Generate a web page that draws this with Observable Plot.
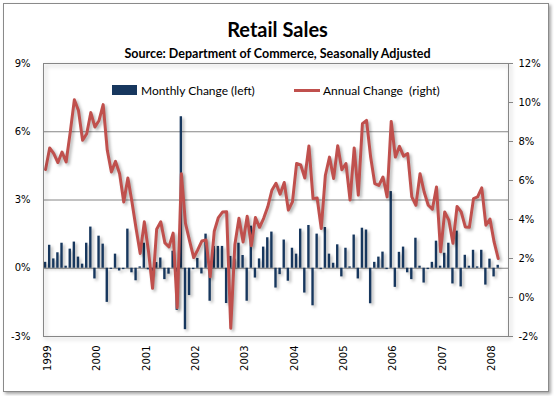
<!DOCTYPE html>
<html>
<head>
<meta charset="utf-8">
<script src="https://cdn.jsdelivr.net/npm/d3@7"></script>
<script src="https://cdn.jsdelivr.net/npm/@observablehq/plot@0.6"></script>
<style>
  html, body { margin: 0; padding: 0; background: #fff; }
  #wrap { position: relative; width: 554px; height: 396px; overflow: hidden; }
  #border { position: absolute; left: 3px; top: 3px; width: 544px; height: 387px; border: 1px solid #8a8a8a; box-shadow: 2px 2px 3px rgba(0,0,0,0.35); background: #fff; }
  #chart { position: absolute; left: 0; top: 0; }
  .leg { position: absolute; top: 80px; height: 20px; display: flex; align-items: center; font-family: Lato, "Open Sans", sans-serif; font-size: 12px; color: #000; white-space: pre; }
  .sw-bar { width: 25px; height: 10px; background: #17375E; margin-right: 4px; }
  .sw-line { width: 26px; height: 3px; background: #C0504D; margin-right: 3px; }
</style>
</head>
<body>
<div id="wrap">
  <div id="border"></div>
  <div id="chart"></div>
  <div class="leg" style="left:112px"><span class="sw-bar"></span><span>Monthly Change (left)</span></div>
  <div class="leg" style="left:294px"><span class="sw-line"></span><span>Annual Change  (right)</span></div>
</div>
<script>
// Tick labels
const years = [1999, 2000, 2001, 2002, 2003, 2004, 2005, 2006, 2007, 2008];
const leftTicks = [-3, 0, 3, 6, 9];
const rightTicks = [-2, 0, 2, 4, 6, 8, 10, 12];

// Monthly change (%), Jan 1999 .. Mar 2008 (left axis)
const monthly = [
  0.26, 1.01, 0.41, 0.68, 1.10, 0.09, 0.84, 1.15, 0.49, 0.18, 1.10, 1.81,
  -0.47, 1.41, 1.06, -1.50, -0.05, 0.62, -0.12, -0.06, 1.72, -0.20, -0.55, 0.06,
  1.10, -0.07, -0.30, 0.25, 0.45, -0.50, -0.26, 0.75, -1.85, 6.66, -2.70, -1.20,
  -0.06, 0.43, -0.25, 1.50, -1.45, 0.96, 0.96, 0.96, -1.55, 0.52, 0.40, 1.10,
  0.56, -1.45, 1.85, -0.43, 0.41, 0.93, 1.34, 1.59, -0.87, -0.28, 1.24, -0.57,
  0.88, 0.62, 1.72, -1.09, 1.88, -1.65, 1.50, -0.06, 1.79, 0.62, 0.22, 1.03,
  -0.38, 0.88, 0.06, 1.46, -0.47, 1.76, 1.68, -1.56, 0.26, 0.49, 0.71, -0.06,
  3.37, -0.84, 0.70, 0.93, -0.20, -0.50, 1.32, 0.09, -0.65, -0.06, 0.26, 1.19,
  0.09, 0.66, 1.10, -0.69, 1.63, -0.82, 0.57, 0.09, 0.79, 0.06, 0.79, -0.74,
  0.40, -0.38, 0.13
];

// Annual change (%), Jan 1999 .. Mar 2008 (right axis)
const annual = [
  6.56, 7.67, 7.38, 6.92, 7.46, 6.95, 8.48, 10.14, 9.59, 8.06, 8.40, 9.48,
  8.74, 9.08, 9.89, 7.55, 6.44, 6.98, 6.35, 4.90, 6.13, 4.90, 3.54, 2.26,
  3.88, 2.40, 0.47, 3.50, 3.88, 2.80, 2.60, 3.30, -0.52, 6.35, 3.80, 2.90,
  2.05, 2.45, 2.90, 2.95, 1.06, 3.40, 4.10, 4.38, 4.40, -1.58, 2.70, 4.06,
  2.85, 4.17, 2.65, 4.10, 3.60, 4.06, 4.65, 5.50, 5.86, 5.30, 5.90, 4.48,
  4.90, 6.87, 6.80, 6.13, 7.77, 5.07, 5.10, 3.54, 6.27, 7.20, 6.10, 7.78,
  6.55, 6.87, 5.00, 7.67, 5.25, 8.91, 9.08, 7.20, 5.84, 5.75, 6.18, 5.16,
  9.03, 7.20, 7.75, 7.25, 7.38, 5.16, 4.73, 6.35, 5.41, 4.73, 4.53, 5.67,
  2.34, 4.39, 3.97, 2.78, 4.67, 4.39, 3.62, 3.60, 5.07, 5.16, 5.62, 3.71,
  4.02, 2.85, 2.00
];

const data = monthly.map((m, i) => ({i, m, a: annual[i]}));

// map right-axis value into left-axis units
const L0 = -3, L1 = 9, R0 = -2, R1 = 12;
const toLeft = r => L0 + (r - R0) * (L1 - L0) / (R1 - R0);
const fromLeft = l => R0 + (l - L0) * (R1 - R0) / (L1 - L0);

const axisFont = "DejaVu Sans, sans-serif";

const chart = Plot.plot({
  width: 554,
  height: 396,
  marginLeft: 43,
  marginRight: 46,
  marginTop: 63,
  marginBottom: 60,
  style: {background: "transparent", fontFamily: axisFont, fontSize: "10px", color: "#000"},
  x: {domain: [-0.5, 112.5], label: null},
  y: {domain: [L0, L1], label: null},
  marks: [
    Plot.ruleY([0, 3, 6], {stroke: "#868686", strokeWidth: 1}),
    Plot.rectY(data, {x1: d => d.i - 0.29, x2: d => d.i + 0.29, y1: 0, y2: "m", fill: "#17375E"}),
    Plot.line(data, {x: "i", y: d => toLeft(d.a), stroke: "#C0504D", strokeWidth: 3, strokeLinejoin: "round", strokeLinecap: "round"}),
    Plot.frame({stroke: "#868686"}),
    Plot.axisY(leftTicks, {anchor: "left", label: null, tickSize: 0, tickPadding: 13, tickFormat: d => d + "%", fontFamily: axisFont, fontSize: 10}),
    Plot.axisY(rightTicks.map(toLeft), {anchor: "right", label: null, tickSize: 4, tickPadding: 6, stroke: "#868686", tickFormat: v => Math.round(fromLeft(v)) + "%", fontFamily: axisFont, fontSize: 10}),
    Plot.axisX(years.map(y => (y - years[0]) * 12), {anchor: "bottom", label: null, tickSize: 0, tickPadding: 9, tickRotate: -90, dx: 2, tickFormat: v => String(years[0] + v / 12), fontFamily: axisFont, fontSize: 10}),
    Plot.text(["Retail Sales"], {frameAnchor: "top", lineAnchor: "bottom", dy: -27, dx: 1.5, fontSize: 20, fontWeight: "bold", fontFamily: "Lato", fill: "#000"}),
    Plot.text(["Source: Department of Commerce, Seasonally Adjusted"], {frameAnchor: "top", lineAnchor: "bottom", dy: -6, dx: 1.5, fontSize: 12.5, fontWeight: "bold", fontFamily: "Lato", fill: "#000"})
  ]
});

document.getElementById("chart").appendChild(chart);

// Excel-like soft shadows
const svg = d3.select(chart);
svg.selectAll('g[aria-label="rect"], g[aria-label="line"]').style("filter", "drop-shadow(2px 2px 1.5px rgba(0,0,0,0.3))");
svg.selectAll('[aria-label="frame"]').style("filter", "drop-shadow(2px 2px 2px rgba(0,0,0,0.3))");
</script>
</body>
</html>
